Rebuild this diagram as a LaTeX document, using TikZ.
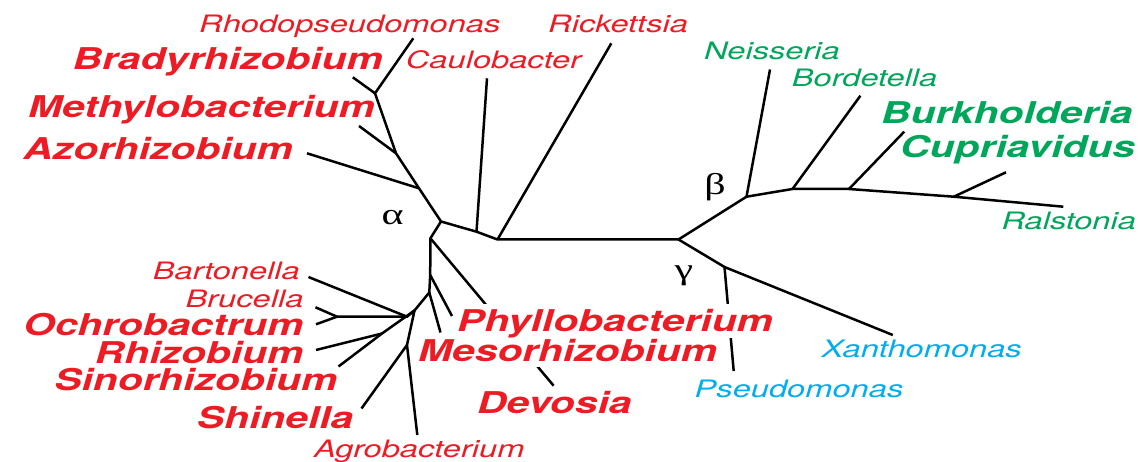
\documentclass[tikz,border=0pt]{standalone}
\usepackage{fontspec}
\usepackage{graphicx}
\setmainfont{TeX Gyre Heros}[FakeStretch=1.36]
\newfontfamily\greekfont{Liberation Serif}[FakeStretch=1.4]
\definecolor{alphared}{RGB}{237,28,36}
\definecolor{betagreen}{RGB}{0,166,90}
\definecolor{gammacyan}{RGB}{0,174,239}
\tikzset{
  branch/.style={line width=2.5pt, black, line join=round},
  lab/.style={inner sep=0pt},
  reg/.style={lab, font=\fontsize{24}{24}\selectfont\itshape},
  bld/.style={lab, font=\fontsize{30}{30}\selectfont\bfseries\itshape},
  ared/.style={text=alphared},
  bgreen/.style={text=betagreen},
  gcyan/.style={text=gammacyan},
  greek/.style={inner sep=0pt, font=\fontsize{30}{30}\selectfont\greekfont},
  occl/.style={fill=white}
}
\begin{document}
\begin{tikzpicture}[x=1pt,y=-1pt]
\useasboundingbox (0,0) rectangle (1138,462);
% ---- junctions and tips
\coordinate (root) at (497.5,239.5);
\coordinate (split) at (678.5,239.5);
\coordinate (caulJ) at (476.5,231.7);
\coordinate (alphaJ) at (441,221.5);
\coordinate (azoJ) at (419,188.3);
\coordinate (methJ) at (396,153.3);
\coordinate (bradJ) at (375,93.3);
\coordinate (rhodoT) at (413.3,38.3);
\coordinate (bradT) at (352.8,77.3);
\coordinate (methT) at (359,126);
\coordinate (azoT) at (307,153.3);
\coordinate (caulT) at (487,78.3);
\coordinate (rickT) at (611.3,43.3);
\coordinate (lowJ) at (430.4,238.3);
\coordinate (vJ) at (430.2,275);
\coordinate (aJ) at (429.3,292.5);
\coordinate (devT) at (553.6,385.7);
\coordinate (phylloT) at (452,316);
\coordinate (mesoT) at (440.5,332.5);
\coordinate (bJ) at (414.5,310.5);
\coordinate (cJ) at (407,316.7);
\coordinate (dJ) at (382,333.5);
\coordinate (eJ) at (407,345);
\coordinate (bartT) at (308.5,277);
\coordinate (ochJ) at (337,316.7);
\coordinate (brucT) at (315.5,307.3);
\coordinate (ochT) at (316,324.3);
\coordinate (rhizT) at (316,350);
\coordinate (sinoT) at (338.5,366.5);
\coordinate (shinT) at (361.5,408.5);
\coordinate (agroT) at (417.3,435);
\coordinate (betaJ) at (746.5,196.7);
\coordinate (neisT) at (770,69.5);
\coordinate (bordJ) at (792.5,189);
\coordinate (bordT) at (860.4,95.7);
\coordinate (burkJ) at (849,189);
\coordinate (burkT) at (904.2,131.7);
\coordinate (cupJ) at (953.8,196.7);
\coordinate (cupT) at (1006,172.3);
\coordinate (ralT) at (1063.3,206.7);
\coordinate (gammaJ) at (724.5,267);
\coordinate (xanT) at (892.8,335);
\coordinate (pseT) at (733.7,371);
% ---- branches
\draw[branch] (split) -- (root) -- (caulJ) -- (alphaJ) -- (azoJ) -- (methJ) -- (bradJ) -- (rhodoT);
\draw[branch] (root) -- (rickT);
\draw[branch] (caulJ) -- (caulT);
\draw[branch] (bradJ) -- (bradT);
\draw[branch] (methJ) -- (methT);
\draw[branch] (azoJ) -- (azoT);
\draw[branch] (alphaJ) -- (lowJ) -- (vJ) -- (aJ) -- (bJ) -- (cJ) -- (ochJ) -- (ochT);
\draw[branch] (lowJ) -- (devT);
\draw[branch] (vJ) -- (phylloT);
\draw[branch] (aJ) -- (mesoT);
\draw[branch] (cJ) -- (bartT);
\draw[branch] (ochJ) -- (brucT);
\draw[branch] (bJ) -- (dJ) -- (sinoT);
\draw[branch] (dJ) -- (rhizT);
\draw[branch] (bJ) -- (eJ) -- (agroT);
\draw[branch] (eJ) -- (shinT);
\draw[branch] (split) -- (betaJ) -- (bordJ) -- (burkJ) -- (cupJ) -- (ralT);
\draw[branch] (betaJ) -- (neisT);
\draw[branch] (bordJ) -- (bordT);
\draw[branch] (burkJ) -- (burkT);
\draw[branch] (cupJ) -- (cupT);
\draw[branch] (split) -- (gammaJ) -- (xanT);
\draw[branch] (gammaJ) -- (pseT);
% ---- labels
\node[reg, ared, anchor=base west] (rhodo) at (199,32.5) {Rhodopseudomonas};
\node[reg, ared, anchor=base west] (rick) at (548,33) {Rickettsia};
\node[reg, ared, anchor=base west] (caul) at (405.7,69) {Caulobacter};
\node[bld, ared, anchor=base east] (brad) at (383,70) {Bradyrhizobium};
\node[bld, ared, anchor=base east] (meth) at (375,118) {Methylobacterium};
\node[bld, ared, anchor=base east] (azo) at (293,160) {Azorhizobium};
\node[reg, ared, anchor=base east] (bart) at (300,280) {Bartonella};
\node[reg, ared, anchor=base east] (bruc) at (303.6,308) {Brucella};
\node[bld, ared, anchor=base east] (ochro) at (303.6,335) {Ochrobactrum};
\node[bld, ared, anchor=base east] (rhiz) at (303.6,363) {Rhizobium};
\node[bld, ared, anchor=base east] (sino) at (337.5,390) {Sinorhizobium};
\node[bld, ared, anchor=base east] (shin) at (353.6,428) {Shinella};
\node[reg, ared, anchor=base west] (agro) at (314,457) {Agrobacterium};
\node[bld, ared, occl, anchor=base west, text height=28pt, text depth=6.5pt] (phyllo) at (457,332) {Phyllobacterium};
\node[bld, ared, occl, anchor=base west, text height=24pt, text depth=4.7pt] (meso) at (418,362) {Mesorhizobium};
\node[bld, ared, anchor=base west] (devo) at (477,413) {Devosia};
\node[reg, bgreen, anchor=base west] (neis) at (704,60) {Neisseria};
\node[reg, bgreen, anchor=base west] (bord) at (791.7,87) {Bordetella};
\node[bld, bgreen, anchor=base west] (burk) at (881,124) {Burkholderia};
\node[bld, bgreen, anchor=base west] (cupr) at (900,158) {Cupriavidus};
\node[reg, bgreen, anchor=base west] (rals) at (1001.5,230) {Ralstonia};
\node[reg, gcyan, anchor=base west] (xan) at (821.5,357) {Xanthomonas};
\node[reg, gcyan, anchor=base west] (pse) at (694.5,397) {Pseudomonas};
\node[greek] (alab) at (392.5,218) {α};
\node[greek] (blab) at (715,186.7) {β};
\node[greek] (glab) at (684,276) {γ};
\end{tikzpicture}
\end{document}
